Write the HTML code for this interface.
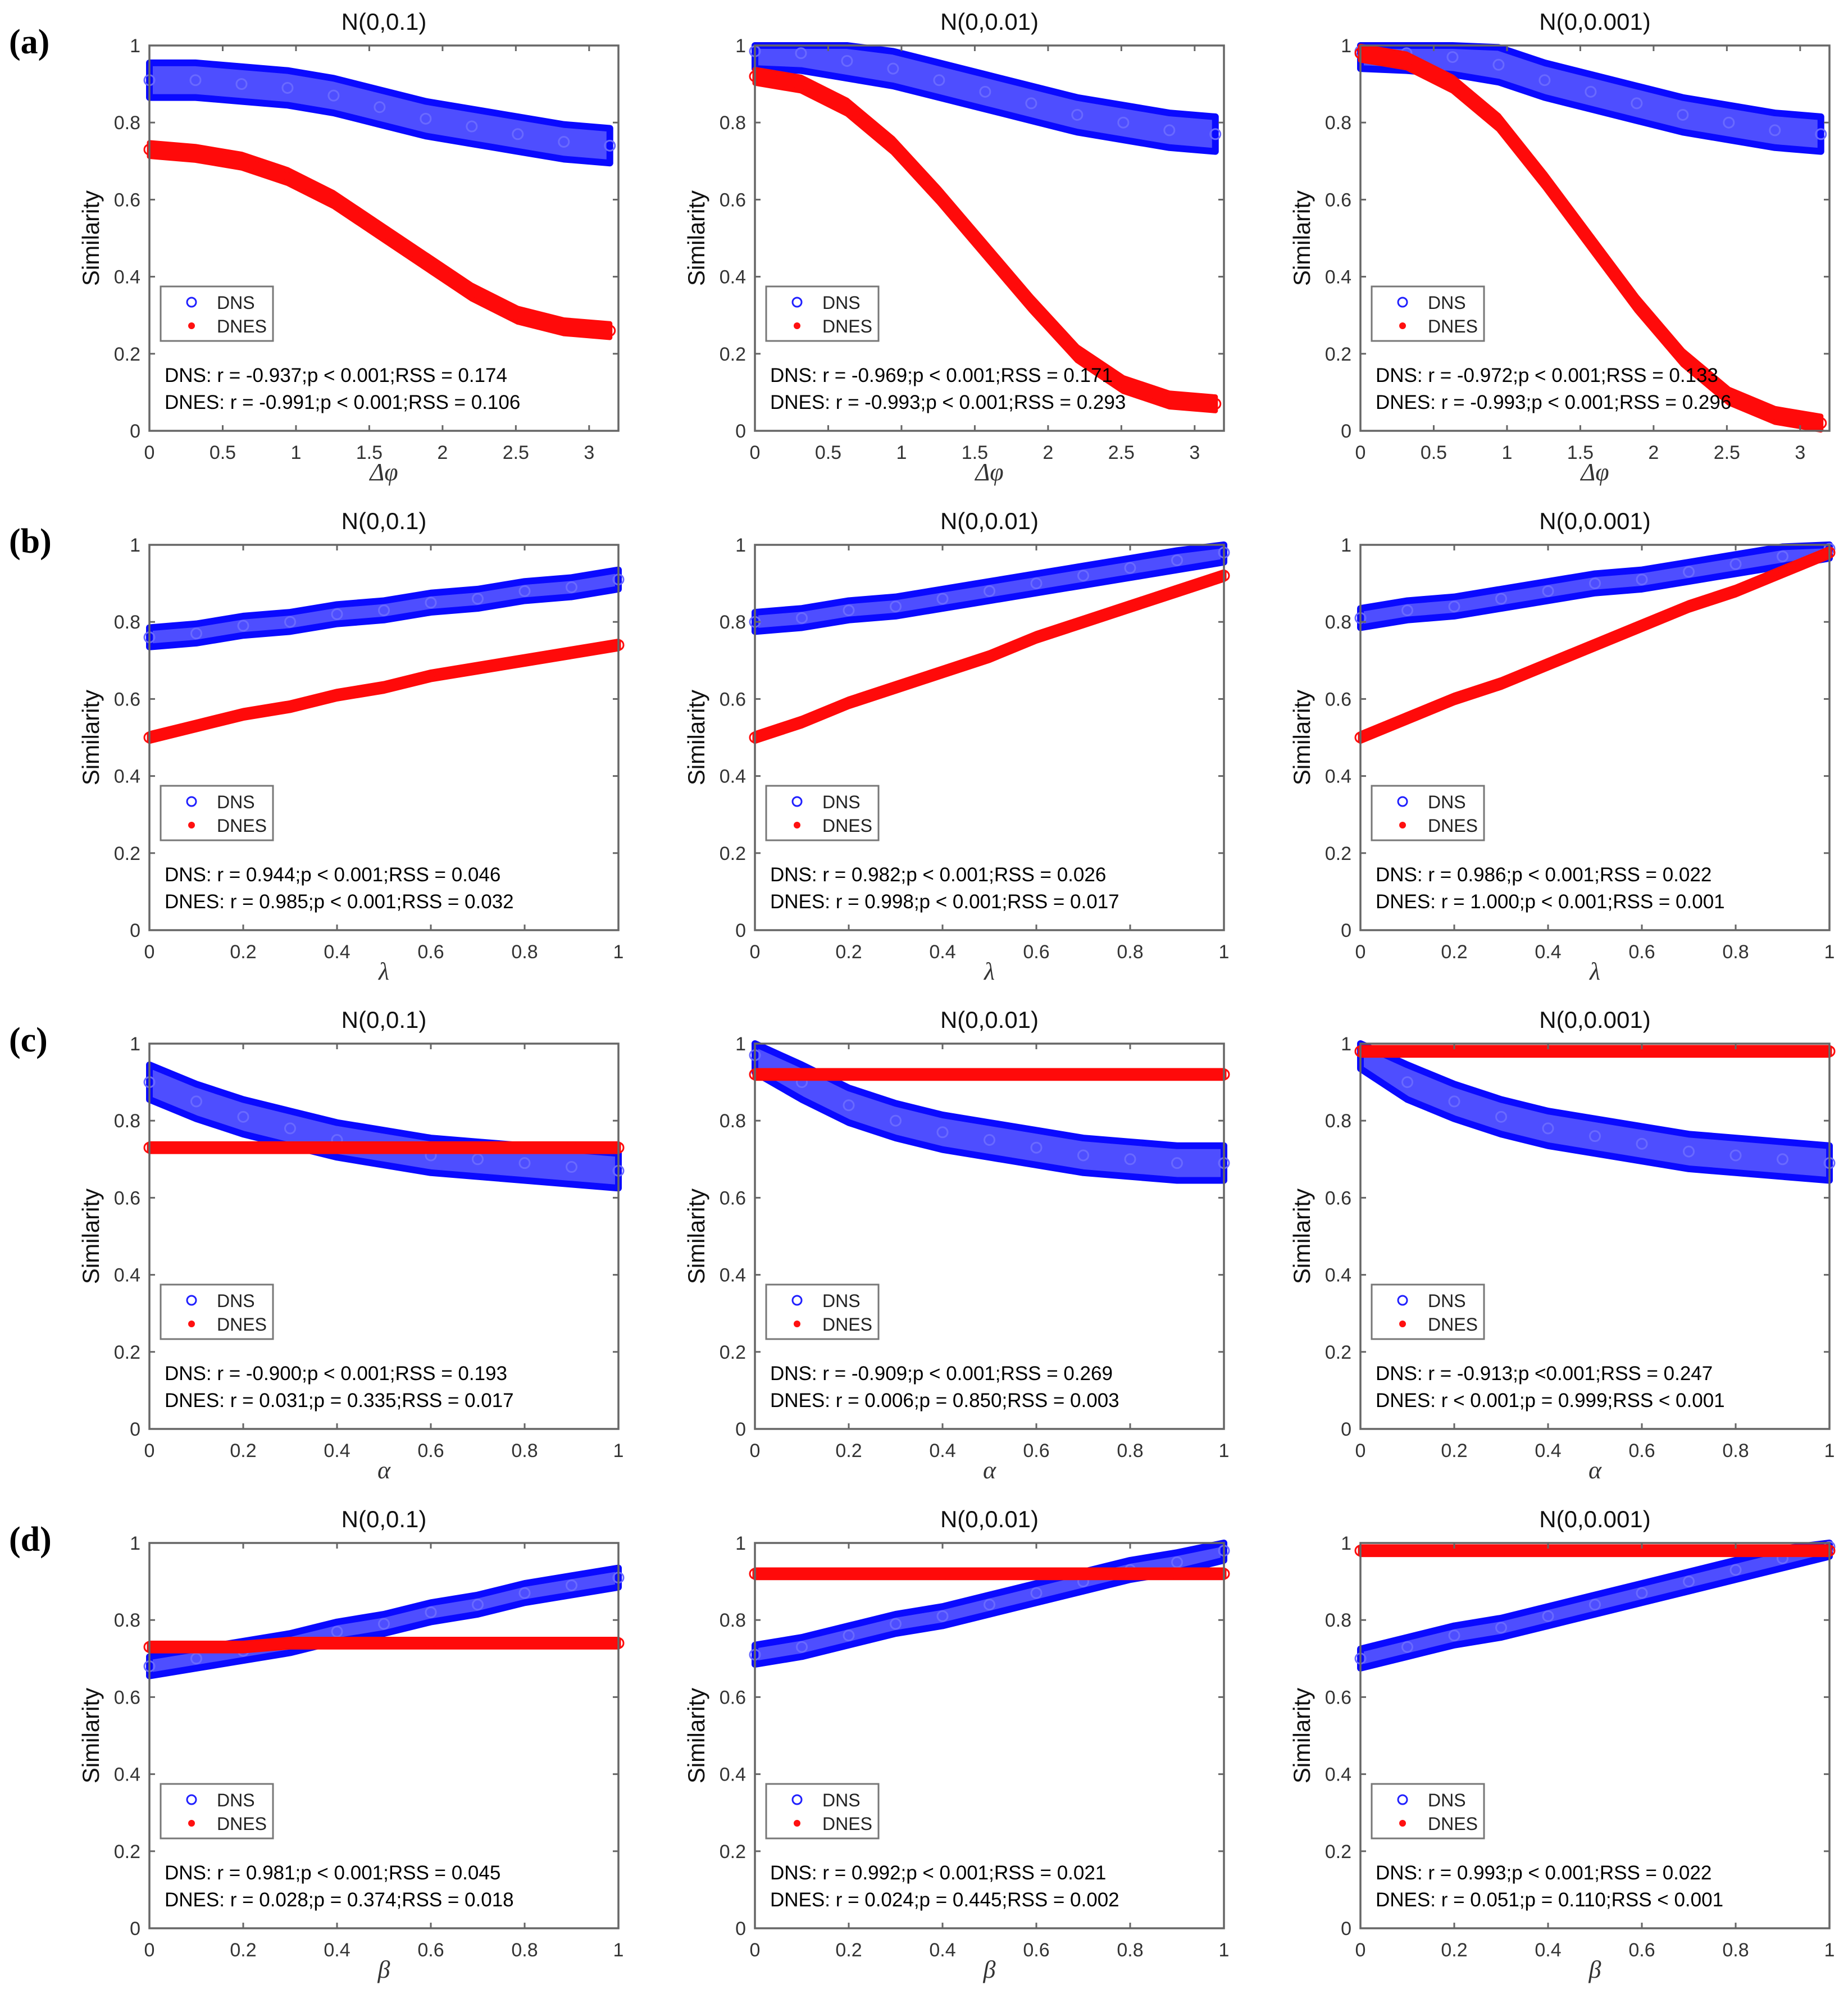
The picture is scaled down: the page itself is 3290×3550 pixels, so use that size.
<!DOCTYPE html>
<html><head><meta charset="utf-8"><style>
html,body{margin:0;padding:0;background:#fff}
svg text{font-family:"Liberation Sans",sans-serif}
</style></head><body>
<svg id="fig" xmlns="http://www.w3.org/2000/svg" width="3290" height="3545" viewBox="0 0 3290 3545">
<rect width="3290" height="3545" fill="#fff"/>
</svg>
<script>
// ---- data (11 samples at equal fractions of each x range) ----
const titles = ["N(0,0.1)","N(0,0.01)","N(0,0.001)"];
const rowLetters = ["(a)","(b)","(c)","(d)"];
const xLabels = ["Δφ","λ","α","β"];
const xTicksA = [0,0.5,1,1.5,2,2.5,3];
const xTicksB = [0,0.2,0.4,0.6,0.8,1];
const yTicks = [0,0.2,0.4,0.6,0.8,1];
const sampleFrac = [0,0.1,0.2,0.3,0.4,0.5,0.6,0.7,0.8,0.9,1];

const dnsA1 = [0.91,0.91,0.90,0.89,0.87,0.84,0.81,0.79,0.77,0.75,0.74];
const dnesA1 = [0.73,0.72,0.70,0.66,0.60,0.52,0.44,0.36,0.30,0.27,0.26];
const dnsA2 = [0.985,0.98,0.96,0.94,0.91,0.88,0.85,0.82,0.80,0.78,0.77];
const dnesA2 = [0.92,0.90,0.84,0.74,0.61,0.47,0.33,0.20,0.12,0.08,0.07];
const dnsA3 = [0.985,0.98,0.97,0.95,0.91,0.88,0.85,0.82,0.80,0.78,0.77];
const dnesA3 = [0.98,0.96,0.90,0.80,0.65,0.49,0.33,0.19,0.09,0.04,0.02];
const dnsB1 = [0.76,0.77,0.79,0.80,0.82,0.83,0.85,0.86,0.88,0.89,0.91];
const dnesB1 = [0.50,0.53,0.56,0.58,0.61,0.63,0.66,0.68,0.70,0.72,0.74];
const dnsB2 = [0.80,0.81,0.83,0.84,0.86,0.88,0.90,0.92,0.94,0.96,0.98];
const dnesB2 = [0.50,0.54,0.59,0.63,0.67,0.71,0.76,0.80,0.84,0.88,0.92];
const dnsB3 = [0.81,0.83,0.84,0.86,0.88,0.90,0.91,0.93,0.95,0.97,0.99];
const dnesB3 = [0.50,0.55,0.60,0.64,0.69,0.74,0.79,0.84,0.88,0.93,0.98];
const dnsC1 = [0.90,0.85,0.81,0.78,0.75,0.73,0.71,0.70,0.69,0.68,0.67];
const dnesC1 = [0.73,0.73,0.73,0.73,0.73,0.73,0.73,0.73,0.73,0.73,0.73];
const dnsC2 = [0.97,0.90,0.84,0.80,0.77,0.75,0.73,0.71,0.70,0.69,0.69];
const dnesC2 = [0.92,0.92,0.92,0.92,0.92,0.92,0.92,0.92,0.92,0.92,0.92];
const dnsC3 = [0.98,0.90,0.85,0.81,0.78,0.76,0.74,0.72,0.71,0.70,0.69];
const dnesC3 = [0.98,0.98,0.98,0.98,0.98,0.98,0.98,0.98,0.98,0.98,0.98];
const dnsD1 = [0.68,0.70,0.72,0.74,0.77,0.79,0.82,0.84,0.87,0.89,0.91];
const dnesD1 = [0.73,0.73,0.73,0.74,0.74,0.74,0.74,0.74,0.74,0.74,0.74];
const dnsD2 = [0.71,0.73,0.76,0.79,0.81,0.84,0.87,0.90,0.93,0.95,0.98];
const dnesD2 = [0.92,0.92,0.92,0.92,0.92,0.92,0.92,0.92,0.92,0.92,0.92];
const dnsD3 = [0.70,0.73,0.76,0.78,0.81,0.84,0.87,0.90,0.93,0.96,0.99];
const dnesD3 = [0.98,0.98,0.98,0.98,0.98,0.98,0.98,0.98,0.98,0.98,0.98];
const dnsSpreadRow = [0.045,0.025,0.045,0.025];
const dnesSpreadRow = [0.018,0.01,0.01,0.01];

const statsDNS = [
 ["DNS: r = -0.937;p < 0.001;RSS = 0.174","DNS: r = -0.969;p < 0.001;RSS = 0.171","DNS: r = -0.972;p < 0.001;RSS = 0.133"],
 ["DNS: r = 0.944;p < 0.001;RSS = 0.046","DNS: r = 0.982;p < 0.001;RSS = 0.026","DNS: r = 0.986;p < 0.001;RSS = 0.022"],
 ["DNS: r = -0.900;p < 0.001;RSS = 0.193","DNS: r = -0.909;p < 0.001;RSS = 0.269","DNS: r = -0.913;p <0.001;RSS = 0.247"],
 ["DNS: r = 0.981;p < 0.001;RSS = 0.045","DNS: r = 0.992;p < 0.001;RSS = 0.021","DNS: r = 0.993;p < 0.001;RSS = 0.022"]];
const statsDNES = [
 ["DNES: r = -0.991;p < 0.001;RSS = 0.106","DNES: r = -0.993;p < 0.001;RSS = 0.293","DNES: r = -0.993;p < 0.001;RSS = 0.296"],
 ["DNES: r = 0.985;p < 0.001;RSS = 0.032","DNES: r = 0.998;p < 0.001;RSS = 0.017","DNES: r = 1.000;p < 0.001;RSS = 0.001"],
 ["DNES: r = 0.031;p = 0.335;RSS = 0.017","DNES: r = 0.006;p = 0.850;RSS = 0.003","DNES: r < 0.001;p = 0.999;RSS < 0.001"],
 ["DNES: r = 0.028;p = 0.374;RSS = 0.018","DNES: r = 0.024;p = 0.445;RSS = 0.002","DNES: r = 0.051;p = 0.110;RSS < 0.001"]];

const dnsData = [[dnsA1,dnsA2,dnsA3],[dnsB1,dnsB2,dnsB3],[dnsC1,dnsC2,dnsC3],[dnsD1,dnsD2,dnsD3]];
const dnesData = [[dnesA1,dnesA2,dnesA3],[dnesB1,dnesB2,dnesB3],[dnesC1,dnesC2,dnesC3],[dnesD1,dnesD2,dnesD3]];

// ---- layout ----
const NS="http://www.w3.org/2000/svg";
const svg=document.getElementById('fig');
const colX=[266,1344,2422], W=835;
const rowY=[81,970,1858,2747], H=686;
function mk(tag,attrs,parent){const e=document.createElementNS(NS,tag);for(const k in attrs)e.setAttribute(k,attrs[k]);(parent||svg).appendChild(e);return e;}

for(let r=0;r<4;r++){
  const L=mk('text',{x:16,y:rowY[r]+14,'font-size':62,'font-weight':'bold',fill:'#000',style:'font-family:"Liberation Serif",serif'});
  
  
  L.textContent=rowLetters[r];
  for(let c=0;c<3;c++){
    const x0=colX[c], y0=rowY[r];
    const xmax = r===0?3.2:1;
    const dataXmax = r===0?Math.PI:1;
    const sx=v=>x0+v/xmax*W, sy=v=>y0+H-v*H;
    const g=mk('g',{});
    
    
    const t=mk('text',{x:x0+W/2,y:y0-28,'font-size':42,'text-anchor':'middle',fill:'#111'},g);
    
    
    t.textContent=titles[c];
    const series=[[dnsData[r][c],dnsSpreadRow[r],'#0a0aff','dns'],[dnesData[r][c],dnesSpreadRow[r],'#ff0a0a','dnes']];
    series.forEach(([vals,sp,col,nm])=>{
      let up=[],lo=[];
      vals.forEach((v,i)=>{const xx=sx(sampleFrac[i]*dataXmax);up.push(xx+','+sy(Math.min(1.0,v+sp)));lo.unshift(xx+','+sy(v-sp));});
      const band=mk('polygon',{points:up.concat(lo).join(' '),fill:col,'fill-opacity':nm==='dns'?0.72:1,stroke:col,'stroke-width':nm==='dns'?12:9,'stroke-linejoin':'round'},g);
      
      
      vals.forEach((v,i)=>{
        const m=mk('circle',{cx:sx(sampleFrac[i]*dataXmax),cy:sy(v),r:9,fill:'none',stroke:nm==='dns'?'#6a6aff':col,'stroke-width':3},g);
        
        
      });
    });
    const box=mk('rect',{x:x0,y:y0,width:W,height:H,fill:'none',stroke:'#666','stroke-width':3.5},g);
    
    
    yTicks.forEach(v=>{
      mk('line',{x1:x0,x2:x0+10,y1:sy(v),y2:sy(v),stroke:'#666','stroke-width':3},g);
      mk('line',{x1:x0+W,x2:x0+W-10,y1:sy(v),y2:sy(v),stroke:'#666','stroke-width':3},g);
      const tl=mk('text',{x:x0-16,y:sy(v)+12,'font-size':34,'text-anchor':'end',fill:'#333'},g);
      
      
      tl.textContent=String(v);
    });
    (r===0?xTicksA:xTicksB).forEach(v=>{
      mk('line',{x1:sx(v),x2:sx(v),y1:y0+H,y2:y0+H-10,stroke:'#666','stroke-width':3},g);
      mk('line',{x1:sx(v),x2:sx(v),y1:y0,y2:y0+10,stroke:'#666','stroke-width':3},g);
      const tl=mk('text',{x:sx(v),y:y0+H+50,'font-size':34,'text-anchor':'middle',fill:'#333'},g);
      
      
      tl.textContent=String(v);
    });
    const xl=mk('text',{x:x0+W/2,y:y0+H+88,'font-size':44,'text-anchor':'middle',fill:'#333','font-style':'italic',style:'font-family:"Liberation Serif",serif'},g);
    
    
    xl.textContent=xLabels[r];
    const yl=mk('text',{x:0,y:0,'font-size':42,'text-anchor':'middle',fill:'#111',transform:`translate(${x0-90},${y0+H/2}) rotate(-90)`},g);
    
    
    yl.textContent='Similarity';
    const lx=x0+20, ly=y0+Math.round(0.625*H);
    const lg=mk('g',{},g);
    
    
    mk('rect',{x:lx,y:ly,width:200,height:97,fill:'#fff',stroke:'#777','stroke-width':3},lg);
    mk('circle',{cx:lx+55,cy:ly+28,r:8,fill:'none',stroke:'#2020ff','stroke-width':3},lg);
    mk('text',{x:lx+100,y:ly+40,'font-size':32,fill:'#222'},lg).textContent='DNS';
    mk('circle',{cx:lx+55,cy:ly+70,r:6,fill:'#ff1010'},lg);
    mk('text',{x:lx+100,y:ly+82,'font-size':32,fill:'#222'},lg).textContent='DNES';
    const s1=mk('text',{x:x0+27,y:y0+Math.round(0.856*H)+12,'font-size':35,fill:'#000'},g);
    
    
    s1.textContent=statsDNS[r][c];
    const s2=mk('text',{x:x0+27,y:y0+Math.round(0.856*H)+60,'font-size':35,fill:'#000'},g);
    
    
    s2.textContent=statsDNES[r][c];
  }
}
</script>
</body></html>
